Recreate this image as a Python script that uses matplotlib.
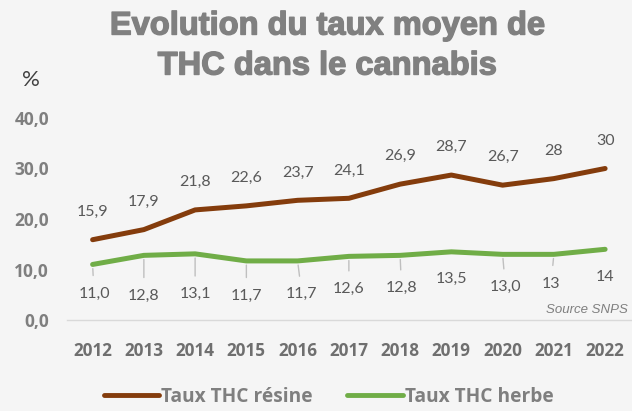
import matplotlib.pyplot as plt
import matplotlib.patheffects as pe
import numpy as np

# Donnees
years = ['2012', '2013', '2014', '2015', '2016', '2017', '2018', '2019', '2020', '2021', '2022']
resine = [15.9, 17.9, 21.8, 22.6, 23.7, 24.1, 26.9, 28.7, 26.7, 28, 30]
herbe = [11.0, 12.8, 13.1, 11.7, 11.7, 12.6, 12.8, 13.5, 13.0, 13, 14]
resine_labels = ['15,9', '17,9', '21,8', '22,6', '23,7', '24,1', '26,9', '28,7', '26,7', '28', '30']
herbe_labels = ['11,0', '12,8', '13,1', '11,7', '11,7', '12,6', '12,8', '13,5', '13,0', '13', '14']
yticks = [0, 10, 20, 30, 40]
ytick_labels = ['0,0', '10,0', '20,0', '30,0', '40,0']

# placement des etiquettes "herbe" (points sous la courbe) et lignes de rappel
herbe_dy = [-21, -29, -29, -25, -24, -23.5, -23.5, -19.5, -23.5, -21, -20]
herbe_dx = [1, 0, 0, 0, 3, 0, 1, 0, 2, -2, 0]
herbe_leader = [True, True, True, True, True, True, True, False, True, True, False]

BG = '#f5f5f5'
BROWN = '#843c0c'
GREEN = '#70ad47'
GRAY = '#595959'
BOLD_FONT = 'Open Sans'

plt.rcParams['font.family'] = ['Lato', 'DejaVu Sans']

fig = plt.figure(figsize=(6.32, 4.11), dpi=100, facecolor=BG)
ax = fig.add_axes([0.106, 0.2214, 0.892, 0.4915], facecolor=BG)

x = np.arange(len(years))
ax.plot(x, resine, color=BROWN, linewidth=3.6, solid_capstyle='round', label='Taux THC résine')
ax.plot(x, herbe, color=GREEN, linewidth=3.6, solid_capstyle='round', label='Taux THC herbe')

ax.set_xlim(-0.5, len(years) - 0.5)
ax.set_ylim(0, 40)
ax.set_xticks(x, years, family=BOLD_FONT, fontweight='bold', fontsize=12.3, color='#6f6f6f')
ax.set_yticks(yticks, ytick_labels, family=BOLD_FONT, fontweight='bold', fontsize=12.5,
              color='#7f7f7f')

for s in ['top', 'right', 'left']:
    ax.spines[s].set_visible(False)
ax.spines['bottom'].set_color('#d9d9d9')
ax.spines['bottom'].set_linewidth(1)
ax.tick_params(length=0)
ax.tick_params(axis='x', pad=16)
ax.tick_params(axis='y', pad=13)

# Etiquettes resine
for i in range(len(years)):
    ax.annotate(resine_labels[i], xy=(x[i], resine[i]), xytext=(0, 20),
                textcoords='offset points', ha='center', va='center',
                fontsize=11.5, color=GRAY)

# Etiquettes herbe avec lignes de rappel
for i in range(len(years)):
    arrow = None
    if herbe_leader[i]:
        arrow = dict(arrowstyle='-', color='#bfbfbf', linewidth=1, shrinkA=6, shrinkB=3)
    ax.annotate(herbe_labels[i], xy=(x[i], herbe[i]), xytext=(herbe_dx[i], herbe_dy[i]),
                textcoords='offset points', ha='center', va='center',
                fontsize=11.5, color=GRAY, arrowprops=arrow)

# Titre
heavy = [pe.withStroke(linewidth=1.0, foreground='#808080')]
fig.text(0.518, 1 - 26 / 411, 'Evolution du taux moyen de', ha='center', va='center',
         fontsize=23.5, fontweight='bold', color='#808080', family='Liberation Sans',
         path_effects=heavy)
fig.text(0.518, 1 - 66 / 411, 'THC dans le cannabis', ha='center', va='center',
         fontsize=23.5, fontweight='bold', color='#808080', family='Liberation Sans',
         path_effects=heavy)
fig.text(31 / 632, 1 - 80 / 411, '%', ha='center', va='center', fontsize=16, color='#404040')

fig.text(628 / 632, 1 - 310 / 411, 'Source SNPS', ha='right', va='center',
         fontsize=9.5, style='italic', color='#7f7f7f', family='Liberation Sans')

# Legende
leg = fig.legend(loc='center', bbox_to_anchor=(0.52, 1 - 397 / 411), ncol=2, frameon=False,
                 prop=dict(family=BOLD_FONT, weight='bold', size=13.8),
                 handlelength=2.9, handletextpad=0.1, columnspacing=1.8)
for t in leg.get_texts():
    t.set_color('#7f7f7f')
for h in leg.get_lines():
    h.set_linewidth(3.5)

plt.savefig('out.png', dpi=100, facecolor=BG)
